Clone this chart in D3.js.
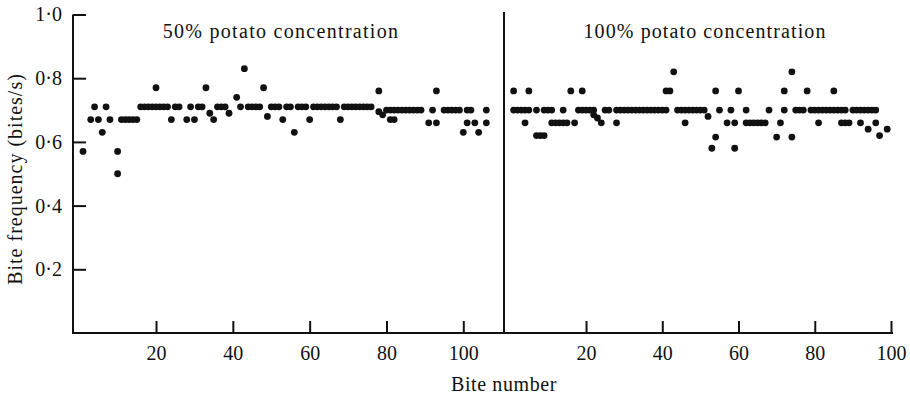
<!DOCTYPE html>
<html><head><meta charset="utf-8">
<script src="https://cdn.jsdelivr.net/npm/d3@7"></script>
<style>
body{margin:0;background:#fff}
svg text{font-family:"Liberation Serif","Times New Roman",serif;fill:#111}
</style></head><body>
<svg id="c" width="910" height="396"></svg>
<script>
const panelTitles = ["50% potato concentration", "100% potato concentration"];
const xLabel = "Bite number";
const yLabel = "Bite frequency (bites/s)";
const xTicks = [20, 40, 60, 80, 100];
const yTicks = [0.2, 0.4, 0.6, 0.8, 1.0];

// 50% potato concentration
const bite50 = [1,3,4,5,6,7,8,10,10,
  11,12,13,14,15,
  16,17,18,19,20,20,21,22,23,
  24,25,26,
  28,29,30,31,32,33,34,35,
  36,37,38,39,41,42,43,
  44,45,46,47,48,49,50,51,52,53,54,55,56,57,58,59,60,
  61,62,63,64,65,66,67,
  68,
  69,70,71,72,73,74,75,76,
  78,78,79,
  80,81,81,82,82,83,84,85,86,87,88,89,
  91,92,93,93,
  95,96,97,98,99,100,101,101,102,103,104,106,106];
const freq50 = [.57,.67,.71,.67,.63,.71,.67,.57,.50,
  .67,.67,.67,.67,.67,
  .71,.71,.71,.71,.77,.71,.71,.71,.71,
  .67,.71,.71,
  .67,.71,.67,.71,.71,.77,.69,.67,
  .71,.71,.71,.69,.74,.71,.83,
  .71,.71,.71,.71,.77,.68,.71,.71,.71,.67,.71,.71,.63,.71,.71,.71,.67,
  .71,.71,.71,.71,.71,.71,.71,
  .67,
  .71,.71,.71,.71,.71,.71,.71,.71,
  .76,.695,.685,
  .70,.67,.70,.70,.67,.70,.70,.70,.70,.70,.70,.70,
  .66,.70,.66,.76,
  .70,.70,.70,.70,.70,.63,.66,.70,.70,.66,.63,.70,.66];

// 100% potato concentration
const bite100 = [1,1,2,3,4,4,5,5,7,7,8,9,9,10,11,11,12,13,14,14,15,16,17,18,19,19,20,21,22,22,23,24,25,26,28,28,
  29,30,31,32,33,34,35,36,37,38,39,40,41,
  41,42,43,
  44,45,46,47,48,49,50,51,
  46,52,53,54,54,55,57,58,59,59,60,62,
  62,63,64,65,66,67,
  68,70,71,72,72,74,74,75,76,77,78,
  79,80,81,82,83,84,85,86,87,88,
  81,85,87,88,89,
  90,91,92,93,94,95,96,
  92,94,96,97,99];
const freq100 = [.76,.70,.70,.70,.66,.70,.76,.70,.70,.62,.62,.62,.70,.70,.70,.66,.66,.66,.70,.66,.66,.76,.66,.70,.76,.70,.70,.70,.70,.685,.675,.66,.70,.70,.66,.70,
  .70,.70,.70,.70,.70,.70,.70,.70,.70,.70,.70,.70,.70,
  .76,.76,.82,
  .70,.70,.70,.70,.70,.70,.70,.70,
  .66,.68,.58,.615,.76,.70,.66,.70,.58,.66,.76,.70,
  .66,.66,.66,.66,.66,.66,
  .70,.615,.66,.70,.76,.615,.82,.70,.70,.70,.76,
  .70,.70,.70,.70,.70,.70,.70,.70,.70,.70,
  .66,.76,.66,.66,.66,
  .70,.70,.70,.70,.70,.70,.70,
  .66,.64,.66,.62,.64];

const svg = d3.select("#c");
const y = d3.scaleLinear().domain([0, 1]).range([333, 14.5]);
const xL = d3.scaleLinear().domain([0, 100]).range([79.2, 463.3]);
const xR = d3.scaleLinear().domain([0, 100]).range([509.8, 891]);
const axisLeftX = 73, axisRightEnd = 893, dividerX = 504;
const fmt = d => d3.format(".1f")(d).replace(".", "\u00B7");

function styleAxis(g) {
  g.attr("font-size", null).attr("font-family", null);
  g.selectAll("line").attr("stroke", "#111").attr("stroke-width", 2);
  g.selectAll("path.domain").remove();
  g.selectAll("text").attr("font-size", 20).attr("fill", "#111");
}

// Y axis
svg.append("g").attr("transform", `translate(${axisLeftX},0)`)
  .call(d3.axisLeft(y).tickValues(yTicks).tickSize(-13).tickSizeOuter(0).tickPadding(11).tickFormat(fmt))
  .call(styleAxis);
svg.append("line").attr("x1", axisLeftX).attr("x2", axisLeftX).attr("y1", y(1)).attr("y2", y(0) + 1)
  .attr("stroke", "#111").attr("stroke-width", 2);

// X axes
[xL, xR].forEach(sc => {
  svg.append("g").attr("transform", `translate(0,${y(0)})`)
    .call(d3.axisBottom(sc).tickValues(xTicks).tickSize(-12).tickSizeOuter(0).tickPadding(13))
    .call(styleAxis);
});
svg.append("line").attr("x1", axisLeftX - 1).attr("x2", axisRightEnd).attr("y1", y(0)).attr("y2", y(0))
  .attr("stroke", "#111").attr("stroke-width", 2);

// divider
svg.append("line").attr("x1", dividerX).attr("x2", dividerX).attr("y1", 12).attr("y2", y(0))
  .attr("stroke", "#111").attr("stroke-width", 2);

// points
const pts50 = bite50.map((b, i) => ({b, f: freq50[i]}));
const pts100 = bite100.map((b, i) => ({b, f: freq100[i]}));
svg.append("g").selectAll("circle").data(pts50).join("circle")
  .attr("cx", d => xL(d.b)).attr("cy", d => y(d.f)).attr("r", 3.4).attr("fill", "#111");
svg.append("g").selectAll("circle").data(pts100).join("circle")
  .attr("cx", d => xR(d.b)).attr("cy", d => y(d.f)).attr("r", 3.4).attr("fill", "#111");

// titles
svg.append("text").attr("x", 281).attr("y", 38).attr("text-anchor", "middle")
  .attr("font-size", 20).attr("letter-spacing", "1.3px").text(panelTitles[0]);
svg.append("text").attr("x", 705).attr("y", 38).attr("text-anchor", "middle")
  .attr("font-size", 20).attr("letter-spacing", "1.1px").text(panelTitles[1]);

// axis labels
svg.append("text").attr("x", 504).attr("y", 391).attr("text-anchor", "middle")
  .attr("font-size", 20).attr("letter-spacing", "0.6px").text(xLabel);
svg.append("text").attr("transform", "translate(21.5,179) rotate(-90)").attr("text-anchor", "middle")
  .attr("font-size", 20).attr("letter-spacing", "1px").text(yLabel);
</script>
</body></html>
